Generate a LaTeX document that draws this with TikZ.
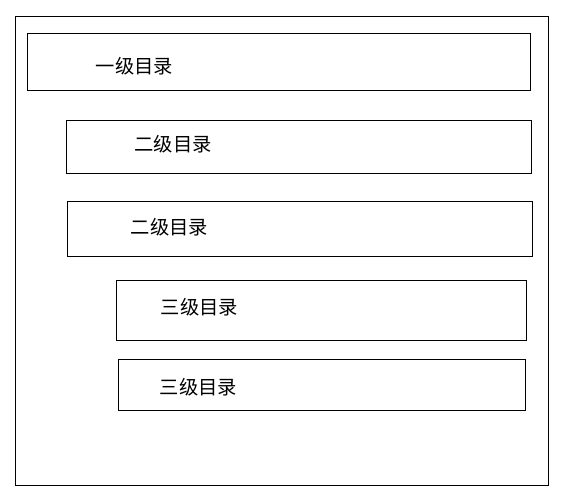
\documentclass[tikz,border=0pt]{standalone}
\usepackage{fontspec}
\newfontfamily\cjk{Noto Sans CJK SC}
\begin{document}
\begin{tikzpicture}[x=1pt,y=-1pt,
  frame/.style={draw=black,line width=1pt},
  lbl/.style={anchor=west,inner sep=0pt,font=\cjk\fontsize{19.3}{21}\selectfont}]
\useasboundingbox (0,0) rectangle (566,503);
\draw[frame] (15.5,16.5) rectangle (548.5,485.5);
\draw[frame] (27.5,33.5) rectangle (530.5,91);
\draw[frame] (66.5,120.5) rectangle (531,174);
\draw[frame] (67.5,201.5) rectangle (532,256);
\draw[frame] (116.5,280) rectangle (526,340);
\draw[frame] (118.5,359.5) rectangle (525.5,410);
\node[lbl] (t1) at (95.5,66) {一级目录};
\node[lbl] (t2) at (134.5,144) {二级目录};
\node[lbl] (t3) at (130.5,227) {二级目录};
\node[lbl] (t4) at (160.5,307.5) {三级目录};
\node[lbl] (t5) at (159.5,387) {三级目录};
\end{tikzpicture}
\end{document}
